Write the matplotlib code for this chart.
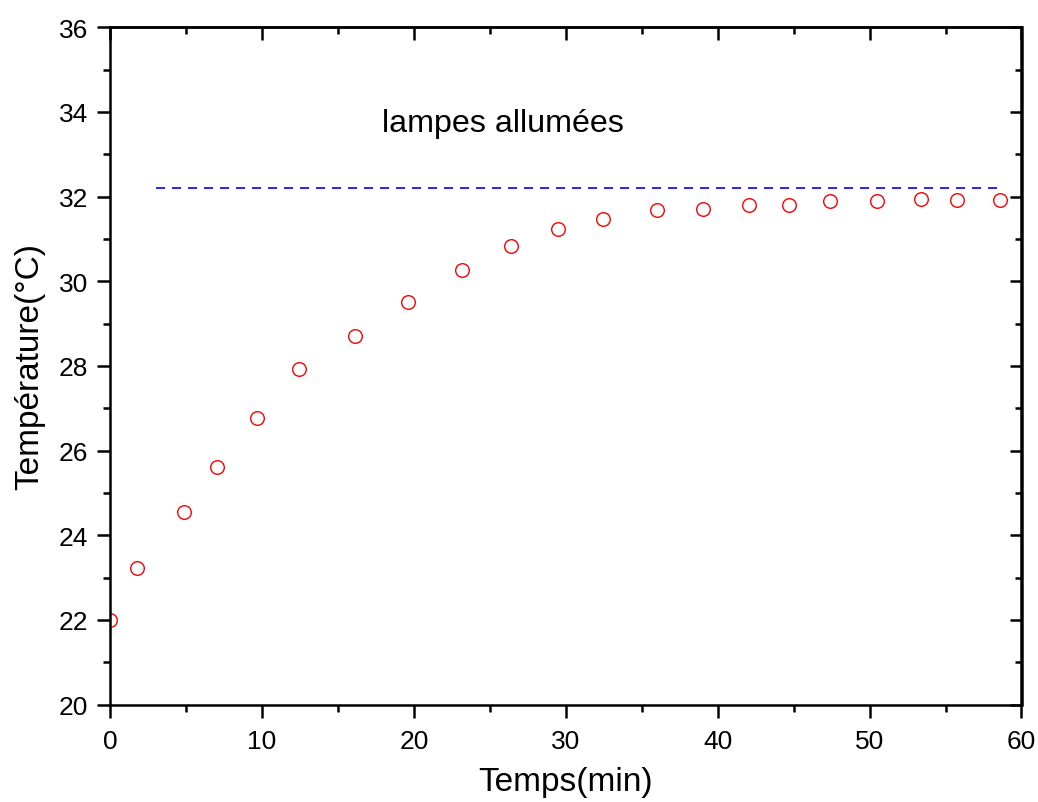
import matplotlib
matplotlib.use("Agg")
import matplotlib.pyplot as plt
from matplotlib.ticker import MultipleLocator

plt.rcParams['font.family'] = ['Liberation Sans', 'DejaVu Sans']

# Data
temps_min = [0, 1.78, 4.89, 7.02, 9.66, 12.47, 16.14, 19.62, 23.17, 26.37, 29.47,
             32.46, 36.0, 39.03, 42.06, 44.67, 47.42, 50.49, 53.41, 55.77, 58.57]
temperature = [22.0, 23.23, 24.54, 25.62, 26.77, 27.92, 28.70, 29.50, 30.27, 30.84, 31.24,
               31.48, 31.69, 31.71, 31.79, 31.79, 31.89, 31.89, 31.94, 31.92, 31.91]
plateau_x = [3, 58.7]
plateau_y = [32.2, 32.2]
annotation = "lampes allumées"
x_label = "Temps(min)"
y_label = "Température(°C)"

fig = plt.figure(figsize=(10.38, 8.03), dpi=100)
ax = fig.add_axes([110/1038, 1 - 705.5/803, (1021.5-110)/1038, (705.5-28.3)/803])

ax.plot(plateau_x, plateau_y, color='#0000ff', lw=1.2, linestyle=(0, (5.4, 4.2)))
ax.plot(temps_min, temperature, linestyle='none', marker='o', markersize=9.8,
        markerfacecolor='none', markeredgecolor='#ff0000', markeredgewidth=1.0)

ax.set_xlim(0, 60)
ax.set_ylim(20, 36)
ax.xaxis.set_major_locator(MultipleLocator(10))
ax.xaxis.set_minor_locator(MultipleLocator(5))
ax.yaxis.set_major_locator(MultipleLocator(2))
ax.yaxis.set_minor_locator(MultipleLocator(1))

lw = 1.8
for sp in ax.spines.values():
    sp.set_linewidth(lw)

ax.tick_params(which='major', direction='out', length=9.5, width=lw, labelsize=19)
ax.tick_params(which='minor', direction='out', length=4.8, width=lw)
ax.tick_params(axis='x', which='major', pad=8.5)
ax.tick_params(axis='y', which='major', pad=6)

# inward ticks on top and right
axt = ax.secondary_xaxis('top')
axt.xaxis.set_major_locator(MultipleLocator(10))
axt.xaxis.set_minor_locator(MultipleLocator(5))
axt.tick_params(which='major', direction='in', length=9, width=lw, labeltop=False)
axt.tick_params(which='minor', direction='in', length=5, width=lw)
axt.spines['top'].set_linewidth(lw)
axr = ax.secondary_yaxis('right')
axr.yaxis.set_major_locator(MultipleLocator(2))
axr.yaxis.set_minor_locator(MultipleLocator(1))
axr.tick_params(which='major', direction='in', length=9, width=lw, labelright=False)
axr.tick_params(which='minor', direction='in', length=5, width=lw)
axr.spines['right'].set_linewidth(lw)

ax.set_xlabel(x_label, fontsize=24, labelpad=9)
ax.set_ylabel(y_label, fontsize=24, labelpad=10)

ax.text(17.9, 33.54, annotation, fontsize=23.2, ha='left', va='baseline')

fig.savefig('out.png', dpi=100)
